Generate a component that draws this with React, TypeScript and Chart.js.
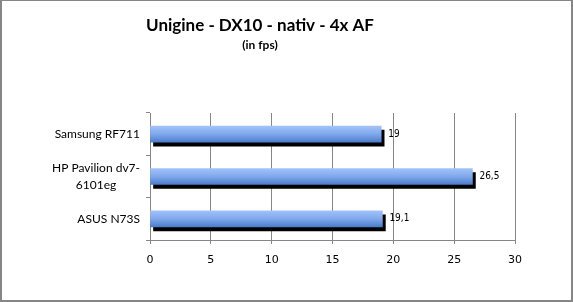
import React, { useEffect, useRef } from 'react';
import { Chart, registerables } from 'chart.js';

Chart.register(...registerables);

const categories: (string | string[])[] = ['Samsung RF711', ['HP Pavilion dv7-', '6101eg'], 'ASUS N73S'];
const values = [19, 26.5, 19.1];
const valueLabels = ['19', '26,5', '19,1'];
const xMin = 0;
const xMax = 30;
const xStep = 5;
const titleText = 'Unigine - DX10 - nativ - 4x AF';
const subtitleText = '(in fps)';

const GRID = '#868686';

const decorPlugin = {
  id: 'decor',
  beforeDraw(chart: any) {
    const { ctx, width, height } = chart;
    ctx.save();
    ctx.fillStyle = '#ffffff';
    ctx.fillRect(0, 0, width, height);
    ctx.restore();
  },
  beforeDatasetDraw(chart: any) {
    const ctx = chart.ctx;
    ctx.save();
    ctx.shadowColor = '#000000';
    ctx.shadowOffsetX = 3;
    ctx.shadowOffsetY = 4;
    ctx.shadowBlur = 0;
  },
  afterDatasetDraw(chart: any) {
    chart.ctx.restore();
  },
  afterDraw(chart: any) {
    const { ctx, width, height } = chart;
    const yScale = chart.scales.y;
    ctx.save();
    ctx.fillStyle = '#000000';
    ctx.textAlign = 'center';
    ctx.textBaseline = 'alphabetic';
    ctx.font = 'bold 17px Lato, "Open Sans", sans-serif';
    ctx.fillText(titleText, 260, 31);
    ctx.font = 'bold 12px Lato, "Open Sans", sans-serif';
    ctx.fillText(subtitleText, 260, 49);

    ctx.font = '12px Lato, "Open Sans", sans-serif';
    ctx.textBaseline = 'middle';
    const rightEdge = yScale.right - 10;
    const lineH = 17;
    categories.forEach((cat, i) => {
      const lines = Array.isArray(cat) ? cat : [cat];
      const cy = yScale.getPixelForValue(i);
      const maxW = Math.max(...lines.map((l) => ctx.measureText(l).width));
      const cx = rightEdge - maxW / 2;
      ctx.textAlign = 'center';
      lines.forEach((l, j) => {
        const y = cy + (j - (lines.length - 1) / 2) * lineH;
        ctx.fillText(l, cx, y);
      });
    });

    const meta = chart.getDatasetMeta(0);
    ctx.font = '10px "Liberation Sans Narrow", "DejaVu Sans Condensed", sans-serif';
    ctx.textAlign = 'left';
    ctx.textBaseline = 'middle';
    meta.data.forEach((el: any, i: number) => {
      ctx.fillText(valueLabels[i], el.x + 7, el.y);
    });

    ctx.fillStyle = GRID;
    ctx.fillRect(0, 0, width, 1);
    ctx.fillRect(0, 0, 2, height);
    ctx.fillRect(width - 2, 0, 2, height);
    ctx.fillRect(0, height - 2, width, 2);
    ctx.restore();
  },
};

export default function App() {
  const canvasRef = useRef<HTMLCanvasElement | null>(null);

  useEffect(() => {
    const canvas = canvasRef.current;
    if (!canvas) return;
    const chart = new Chart(canvas, {
      type: 'bar',
      data: {
        labels: categories as any,
        datasets: [
          {
            data: values,
            barThickness: 16,
            borderWidth: 0,
            backgroundColor: (c: any) => {
              const ch = c.chart;
              const ys = ch.scales && ch.scales.y;
              if (!ys || c.dataIndex === undefined) return '#7FA7EB';
              const cy = ys.getPixelForValue(c.dataIndex);
              if (!Number.isFinite(cy)) return '#7FA7EB';
              const g = ch.ctx.createLinearGradient(0, cy - 8, 0, cy + 8);
              g.addColorStop(0, '#A0C2F8');
              g.addColorStop(0.5, '#80A8EC');
              g.addColorStop(1, '#4B7ECC');
              return g;
            },
          },
        ],
      },
      options: {
        indexAxis: 'y',
        responsive: false,
        animation: false,
        devicePixelRatio: 1,
        layout: { padding: { left: 0, right: 58, top: 113, bottom: 0 } },
        plugins: {
          legend: { display: false },
          title: { display: false },
          tooltip: { enabled: false },
        },
        scales: {
          x: {
            type: 'linear',
            position: 'bottom',
            min: xMin,
            max: xMax,
            ticks: {
              stepSize: xStep,
              color: '#000000',
              padding: 10,
              font: { family: '"DejaVu Sans", Verdana, sans-serif', size: 11 },
            },
            grid: { color: GRID, tickLength: 4, lineWidth: 1 },
            border: { color: GRID },
            afterFit: (s: any) => {
              s.height = 62;
            },
          },
          y: {
            type: 'category',
            ticks: { display: false },
            grid: { color: GRID, tickLength: 4, drawOnChartArea: false, offset: true },
            border: { color: GRID },
            afterFit: (s: any) => {
              s.width = 150;
            },
          },
        },
      } as any,
      plugins: [decorPlugin],
    });
    return () => chart.destroy();
  }, []);

  return (
    <div style={{ position: 'absolute', left: 0, top: 0, width: 573, height: 302 }}>
      <canvas ref={canvasRef} width={573} height={302} style={{ width: 573, height: 302, display: 'block' }} />
    </div>
  );
}
